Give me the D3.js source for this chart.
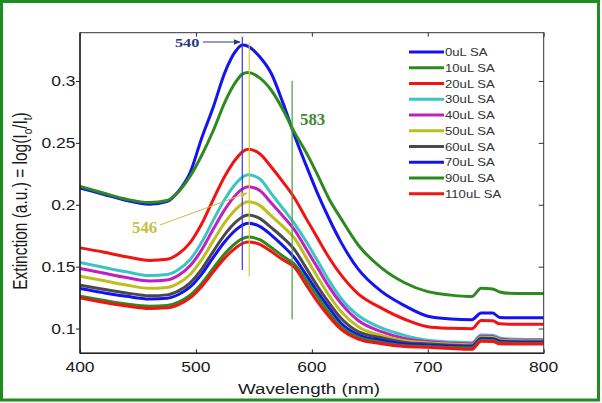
<!DOCTYPE html>
<html><head><meta charset="utf-8">
<script src="https://cdn.jsdelivr.net/npm/d3@7"></script>
<style>body{margin:0;background:#fff}svg{display:block}</style>
</head><body>
<svg id="chart" width="602" height="403"></svg>
<script>
const wavelengths = [400,420,440,460,475,485,495,505,515,525,535,540,545,555,565,575,585,595,605,615,625,640,660,680,700,720,738,746,756,762,770,785,800];
const s0   = [0.2135,0.2085,0.2035,0.2005,0.2025,0.211,0.226,0.254,0.279,0.307,0.325,0.329,0.328,0.3195,0.306,0.2825,0.256,0.232,0.209,0.1885,0.170,0.148,0.130,0.1185,0.110,0.1078,0.1072,0.1125,0.1125,0.109,0.1088,0.1088,0.1088];
const s10  = [0.2148,0.2095,0.2045,0.2018,0.2035,0.2105,0.223,0.240,0.260,0.283,0.300,0.3055,0.3068,0.3025,0.2925,0.277,0.2585,0.2425,0.224,0.2045,0.189,0.1675,0.149,0.137,0.1298,0.127,0.1258,0.1325,0.132,0.1295,0.1285,0.1283,0.1283];
const s20  = [0.1652,0.1618,0.158,0.155,0.1559,0.1604,0.1694,0.1846,0.2044,0.2232,0.2376,0.2426,0.2448,0.2412,0.2305,0.2185,0.2055,0.189,0.173,0.157,0.1435,0.128,0.1165,0.1075,0.1015,0.1002,0.0998,0.1065,0.1062,0.1038,0.1035,0.1035,0.1035];
const s30  = [0.1534,0.1495,0.1458,0.1428,0.1436,0.1477,0.1558,0.1697,0.1876,0.2047,0.2178,0.2223,0.2243,0.221,0.209,0.197,0.1848,0.1705,0.1545,0.1385,0.1245,0.1105,0.1005,0.0945,0.0905,0.0892,0.0885,0.0948,0.0945,0.0925,0.0915,0.0912,0.0912];
const s40  = [0.1485,0.1448,0.1412,0.1385,0.1393,0.1431,0.1507,0.1636,0.1804,0.1963,0.2085,0.2127,0.2146,0.2115,0.2015,0.191,0.1798,0.1645,0.149,0.1335,0.1205,0.1065,0.0975,0.092,0.0893,0.0882,0.0876,0.0938,0.0935,0.0915,0.0908,0.0906,0.0906];
const s50  = [0.1423,0.1388,0.1352,0.1325,0.1332,0.1367,0.1437,0.1556,0.171,0.1857,0.1969,0.2008,0.2025,0.1995,0.191,0.1825,0.173,0.1575,0.1415,0.1265,0.114,0.1015,0.0945,0.0902,0.0884,0.0874,0.0868,0.093,0.0928,0.0908,0.0902,0.09,0.09];
const s60  = [0.135,0.1318,0.1288,0.1265,0.1272,0.1304,0.1369,0.148,0.1624,0.1761,0.1865,0.1901,0.1917,0.189,0.1815,0.1735,0.1638,0.149,0.134,0.1205,0.1085,0.0975,0.0925,0.0888,0.0876,0.0866,0.086,0.0922,0.092,0.09,0.0895,0.0893,0.0893];
const s70  = [0.1324,0.129,0.126,0.1238,0.1244,0.1275,0.1336,0.144,0.1575,0.1703,0.1801,0.1835,0.185,0.1825,0.1755,0.167,0.1572,0.1435,0.1295,0.1165,0.1045,0.095,0.0905,0.0875,0.0866,0.0857,0.0852,0.0915,0.0913,0.0895,0.089,0.0888,0.0888];
const s90  = [0.1261,0.1228,0.1198,0.118,0.1186,0.1214,0.127,0.1365,0.1488,0.1606,0.1695,0.1726,0.174,0.1718,0.1655,0.1585,0.1518,0.1395,0.1255,0.1125,0.1015,0.093,0.0888,0.0862,0.0855,0.0846,0.0842,0.0905,0.0903,0.0885,0.0882,0.088,0.088];
const s110 = [0.1248,0.1212,0.1182,0.1162,0.1167,0.1194,0.1248,0.134,0.1458,0.1571,0.1657,0.1687,0.170,0.168,0.1622,0.1555,0.1495,0.1355,0.1215,0.1095,0.0995,0.0915,0.0878,0.0855,0.0848,0.0838,0.0832,0.0898,0.0896,0.0878,0.0876,0.0875,0.0875];
const seriesNames = ["0uL SA","10uL SA","20uL SA","30uL SA","40uL SA","50uL SA","60uL SA","70uL SA","90uL SA","110uL SA"];
const seriesValues = [s0,s10,s20,s30,s40,s50,s60,s70,s90,s110];
const seriesColors = ["#1414ee","#2e8a1e","#f01414","#3cc4c4","#c020c0","#bebe1e","#4a4a4a","#1414ee","#2e8a1e","#f01414"];
const xTicks = [400,500,600,700,800];
const yTicks = [0.1,0.15,0.2,0.25,0.3];
const markers = [{wl:540, lo:0.1472, hi:0.3357, color:"#3a3ad0"},{wl:546, lo:0.142, hi:0.331, color:"#d4cc3a"},{wl:583, lo:0.1075, hi:0.3, color:"#4a9a3a"}];

const svg = d3.select("#chart");
svg.append("rect").attr("x",1.5).attr("y",1.5).attr("width",597).attr("height",398.5)
  .attr("fill","#fff").attr("stroke","#1e8c1e").attr("stroke-width",3);

const x = d3.scaleLinear().domain([400,800]).range([80,543.7]);
const y = d3.scaleLinear().domain([0.08,0.339]).range([353.3,32.7]);
const SX = 1.25;
const sans = "Liberation Sans, Arial, sans-serif";
const serif = "Liberation Serif, Times New Roman, serif";

const line = d3.line().x((d,i)=>x(wavelengths[i])).y(d=>y(d)).curve(d3.curveMonotoneX);
const gC = svg.append("g");
seriesValues.forEach((vals,k)=>{
  gC.append("path").datum(vals).attr("d",line).attr("fill","none")
    .attr("stroke",seriesColors[k]).attr("stroke-width",3).attr("stroke-linejoin","round");
});

markers.forEach(m=>{
  svg.append("line").attr("x1",x(m.wl)).attr("x2",x(m.wl)).attr("y1",y(m.hi)).attr("y2",y(m.lo))
    .attr("stroke",m.color).attr("stroke-width",1.2);
});

const fr = svg.append("g");
fr.append("rect").attr("x",80).attr("y",32.7).attr("width",463.7).attr("height",320.6)
  .attr("fill","none").attr("stroke","#333").attr("stroke-width",1);
fr.append("line").attr("x1",80).attr("x2",80).attr("y1",32.7).attr("y2",353.3).attr("stroke","#222").attr("stroke-width",1.5);
fr.append("line").attr("x1",80).attr("x2",543.7).attr("y1",353.3).attr("y2",353.3).attr("stroke","#222").attr("stroke-width",1.5);

const xAx = svg.append("g").attr("transform","translate(0,353.3)")
  .call(d3.axisBottom(x).tickValues(xTicks).tickSize(-4).tickFormat(""));
xAx.select(".domain").remove(); xAx.selectAll("line").attr("stroke","#222");
const xTop = svg.append("g").attr("transform","translate(0,32.7)")
  .call(d3.axisTop(x).tickValues(xTicks).tickSize(-4).tickFormat(""));
xTop.select(".domain").remove(); xTop.selectAll("line").attr("stroke","#333");
const yAx = svg.append("g").attr("transform","translate(80,0)")
  .call(d3.axisLeft(y).tickValues(yTicks).tickSize(4).tickFormat(""));
yAx.select(".domain").remove(); yAx.selectAll("line").attr("stroke","#222");
const yR = svg.append("g").attr("transform","translate(543.7,0)")
  .call(d3.axisRight(y).tickValues(yTicks).tickSize(-5).tickFormat(""));
yR.select(".domain").remove(); yR.selectAll("line").attr("stroke","#333");

xTicks.forEach(t=>{
  svg.append("text").attr("transform",`translate(${x(t)},371.5) scale(${SX},1)`)
    .attr("text-anchor","middle").attr("font-family",sans).attr("font-size",14).attr("fill","#1a1a1a").text(t);
});
yTicks.forEach(t=>{
  svg.append("text").attr("transform",`translate(75.5,${y(t)+5}) scale(${SX},1)`)
    .attr("text-anchor","end").attr("font-family",sans).attr("font-size",14).attr("fill","#1a1a1a").text(d3.format("")(t));
});

svg.append("text").attr("transform",`translate(309,394) scale(${SX},1)`).attr("text-anchor","middle")
  .attr("font-family",sans).attr("font-size",15).attr("fill","#1a1a1a").text("Wavelength (nm)");
const yl = svg.append("text").attr("transform",`translate(27,201) scale(${SX},1) rotate(-90)`).attr("text-anchor","middle")
  .attr("font-family",sans).attr("font-size",15.5).attr("fill","#1a1a1a");
yl.append("tspan").text("Extinction (a.u.) = log(I");
yl.append("tspan").attr("font-size",10).attr("dy",4).text("o");
yl.append("tspan").attr("dy",-4).text("/I");
yl.append("tspan").attr("font-size",10).attr("dy",4).text("t");
yl.append("tspan").attr("dy",-4).text(")");

const lg = svg.append("g");
seriesNames.forEach((n,k)=>{
  const yy = 52 + k*15.75;
  lg.append("line").attr("x1",409).attr("x2",444).attr("y1",yy).attr("y2",yy)
    .attr("stroke",seriesColors[k]).attr("stroke-width",3);
  lg.append("text").attr("transform",`translate(445,${yy+4}) scale(${SX},1)`)
    .attr("font-family",sans).attr("font-size",10.5).attr("fill","#333").text(n);
});

const defs = svg.append("defs");
function marker(id,color){
  defs.append("marker").attr("id",id).attr("viewBox","0 0 10 10").attr("refX",9).attr("refY",5)
    .attr("markerWidth",7).attr("markerHeight",7).attr("orient","auto")
    .append("path").attr("d","M0,1 L10,5 L0,9 z").attr("fill",color);
}
marker("a540","#2a3b80"); marker("a546","#c8c040");
svg.append("text").attr("transform",`translate(175,47) scale(${SX},1)`).attr("font-family",serif)
  .attr("font-size",13).attr("font-weight","bold").attr("fill","#2a3b80").text("540");
svg.append("line").attr("x1",203).attr("y1",42).attr("x2",240).attr("y2",42)
  .attr("stroke","#2a3b80").attr("stroke-width",1).attr("marker-end","url(#a540)");
svg.append("text").attr("transform",`translate(300,125) scale(1.05,1)`).attr("font-family",serif)
  .attr("font-size",16).attr("font-weight","bold").attr("fill","#3d8b2f").text("583");
svg.append("text").attr("transform",`translate(132,233) scale(1.05,1)`).attr("font-family",serif)
  .attr("font-size",16).attr("font-weight","bold").attr("fill","#c8c040").text("546");
svg.append("line").attr("x1",160).attr("y1",225).attr("x2",247).attr("y2",193)
  .attr("stroke","#c8c040").attr("stroke-width",1).attr("marker-end","url(#a546)");
</script>
</body></html>
